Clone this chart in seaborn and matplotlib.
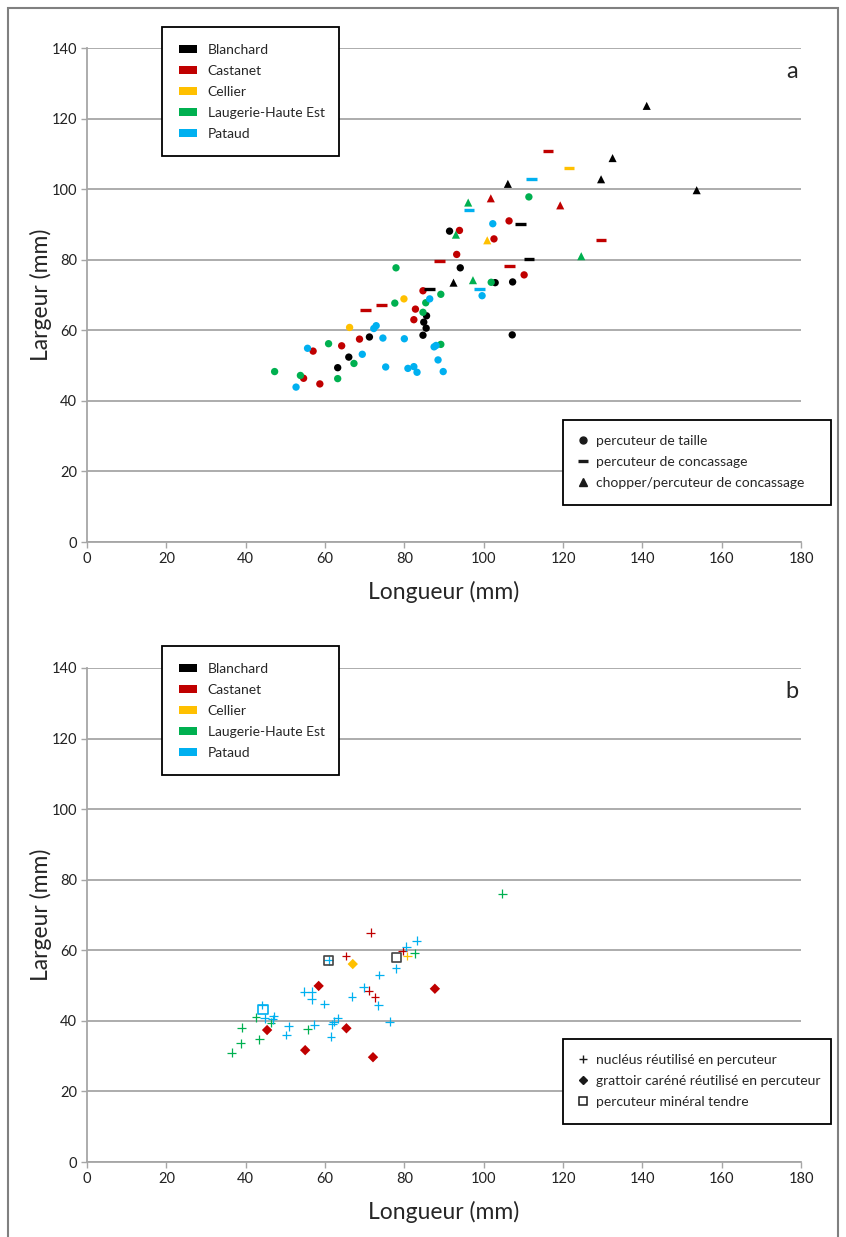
import pandas as pd
import matplotlib.pyplot as plt
import seaborn as sns
from matplotlib.patches import Patch, Rectangle
from matplotlib.lines import Line2D

# sites et couleurs
sites = ["Blanchard", "Castanet", "Cellier", "Laugerie-Haute Est", "Pataud"]
couleurs = ["#000000", "#C00000", "#FFC000", "#00B050", "#00B0F0"]

# (a) percuteur de taille : (longueur, largeur)
blanchard_taille = [(91.4, 88.1), (94.1, 77.7), (102.9, 73.5), (107.3, 73.7), (85.6, 64.1), (84.9, 62.3),
                    (85.5, 60.6), (84.7, 58.6), (107.2, 58.7), (71.2, 58.1), (66.0, 52.4), (63.2, 49.4)]
castanet_taille = [(106.4, 91.0), (93.9, 88.3), (102.6, 85.9), (93.2, 81.5), (110.2, 75.7), (84.7, 71.2),
                   (82.8, 66.0), (82.4, 63.0), (68.7, 57.5), (64.2, 55.6), (57.0, 54.1), (54.6, 46.4), (58.7, 44.8)]
cellier_taille = [(79.9, 68.9), (66.2, 60.8)]
laugerie_taille = [(111.4, 97.8), (101.9, 73.6), (89.2, 70.2), (77.9, 77.7), (77.6, 67.7), (85.4, 67.8),
                   (84.7, 65.1), (89.2, 56.0), (60.9, 56.2), (67.3, 50.6), (47.3, 48.3), (53.8, 47.2), (63.2, 46.3)]
pataud_taille = [(102.3, 90.2), (99.6, 69.8), (86.4, 68.9), (74.6, 57.8), (80.0, 57.6), (87.5, 55.3),
                 (88.0, 55.7), (88.5, 51.6), (75.3, 49.6), (80.9, 49.2), (82.4, 49.7), (83.2, 48.1),
                 (89.8, 48.3), (72.3, 60.5), (72.9, 61.3), (55.6, 54.9), (69.4, 53.2), (52.7, 43.9)]

# (a) percuteur de concassage
blanchard_concassage = [(109.2, 90.1), (111.4, 80.1), (86.4, 71.8)]
castanet_concassage = [(116.2, 110.8), (129.6, 85.7), (88.8, 79.5), (106.6, 78.2), (74.2, 67.1), (70.3, 65.7)]
cellier_concassage = [(121.5, 106.1)]
pataud_concassage = [(112.1, 102.8), (96.3, 94.1), (99.0, 71.7)]

# (a) chopper/percuteur de concassage
blanchard_chopper = [(141.1, 123.6), (132.5, 108.8), (106.1, 101.5), (129.6, 102.8), (153.7, 99.7), (92.4, 73.5)]
castanet_chopper = [(101.8, 97.4), (119.3, 95.4)]
cellier_chopper = [(100.9, 85.5)]
laugerie_chopper = [(96.1, 96.2), (93.0, 87.1), (124.6, 81.0), (97.3, 74.2)]

# (b) nucléus réutilisé en percuteur
castanet_nucleus = [(71.5, 65.0), (79.6, 59.8), (65.3, 58.4), (71.0, 48.5), (72.6, 46.7)]
cellier_nucleus = [(80.7, 58.4)]
laugerie_nucleus = [(82.6, 59.1), (104.7, 76.0), (42.6, 41.0), (46.4, 39.5), (39.0, 38.1), (55.6, 37.6),
                    (43.4, 34.8), (38.7, 33.6), (36.5, 31.0)]
pataud_nucleus = [(83.1, 62.7), (80.5, 61.0), (60.9, 57.2), (77.9, 54.9), (73.7, 53.0), (54.8, 48.3),
                  (56.7, 48.3), (56.6, 46.1), (69.8, 49.5), (66.8, 46.8), (73.4, 44.4), (59.8, 44.8),
                  (44.2, 44.5), (47.1, 41.4), (46.8, 40.4), (44.8, 40.7), (63.2, 40.7), (62.2, 39.8),
                  (61.8, 39.0), (76.3, 39.8), (50.8, 38.5), (57.3, 38.9), (50.2, 36.0), (61.5, 35.5)]

# (b) grattoir caréné réutilisé en percuteur
castanet_grattoir = [(58.4, 49.9), (87.7, 49.1), (45.4, 37.4), (65.4, 37.9), (55.0, 31.7), (72.1, 29.7)]
cellier_grattoir = [(67.0, 56.1)]

# (b) percuteur minéral tendre
blanchard_tendre = [(78.0, 58.0), (60.9, 57.2)]
pataud_tendre = [(44.4, 43.3)]


def to_df(groupes):
    rows = []
    for site, kind, pts in groupes:
        for x, y in pts:
            rows.append((x, y, site, kind))
    return pd.DataFrame(rows, columns=["longueur", "largeur", "site", "type"])


df_a = to_df([
    ("Blanchard", "taille", blanchard_taille), ("Castanet", "taille", castanet_taille),
    ("Cellier", "taille", cellier_taille), ("Laugerie-Haute Est", "taille", laugerie_taille),
    ("Pataud", "taille", pataud_taille),
    ("Blanchard", "concassage", blanchard_concassage), ("Castanet", "concassage", castanet_concassage),
    ("Cellier", "concassage", cellier_concassage), ("Pataud", "concassage", pataud_concassage),
    ("Blanchard", "chopper", blanchard_chopper), ("Castanet", "chopper", castanet_chopper),
    ("Cellier", "chopper", cellier_chopper), ("Laugerie-Haute Est", "chopper", laugerie_chopper),
])
df_b = to_df([
    ("Castanet", "nucleus", castanet_nucleus), ("Cellier", "nucleus", cellier_nucleus),
    ("Laugerie-Haute Est", "nucleus", laugerie_nucleus), ("Pataud", "nucleus", pataud_nucleus),
    ("Castanet", "grattoir", castanet_grattoir), ("Cellier", "grattoir", cellier_grattoir),
    ("Blanchard", "tendre", blanchard_tendre), ("Pataud", "tendre", pataud_tendre),
])

palette = dict(zip(sites, couleurs))

sns.set_theme(style="white")
plt.rcParams["font.family"] = ["Lato", "DejaVu Sans"]

W, H = 846, 1237
fig = plt.figure(figsize=(W / 100, H / 100), dpi=100)
ax_a = fig.add_axes([87 / W, 1 - 542 / H, 714 / W, 494 / H])
ax_b = fig.add_axes([87 / W, 1 - 1162 / H, 714 / W, 494 / H])

gris = "#a6a6a6"


def habiller(ax, lettre):
    ax.set_xlim(0, 180)
    ax.set_ylim(0, 140)
    ax.set_xticks(range(0, 181, 20))
    ax.set_yticks(range(0, 141, 20))
    ax.yaxis.grid(True, color=gris, lw=1.3)
    ax.xaxis.grid(False)
    ax.set_axisbelow(True)
    sns.despine(ax=ax)
    for s in ["left", "bottom"]:
        ax.spines[s].set_color(gris)
        ax.spines[s].set_linewidth(1.3)
    ax.tick_params(bottom=True, left=True, length=4, width=1, color=gris,
                   labelsize=10.5, labelcolor="#222222", pad=3)
    ax.set_xlabel("Longueur (mm)", fontsize=16.5, labelpad=11)
    ax.set_ylabel("Largeur (mm)", fontsize=16.5, labelpad=0)
    ax.text(0.987, 0.953, lettre, transform=ax.transAxes, ha="center", va="center", fontsize=17)


# panneau a
sub = df_a[df_a["type"] == "taille"]
sns.scatterplot(data=sub, x="longueur", y="largeur", hue="site", palette=palette, marker="o",
                s=28, linewidth=0, legend=False, ax=ax_a, zorder=3)
sub = df_a[df_a["type"] == "concassage"]
sns.scatterplot(data=sub, x="longueur", y="largeur", hue="site", palette=palette, marker="_",
                s=60, linewidth=2.4, legend=False, ax=ax_a, zorder=3)
sub = df_a[df_a["type"] == "chopper"]
sns.scatterplot(data=sub, x="longueur", y="largeur", hue="site", palette=palette, marker="^",
                s=34, linewidth=0, legend=False, ax=ax_a, zorder=3)

# panneau b
sub = df_b[df_b["type"] == "nucleus"]
sns.scatterplot(data=sub, x="longueur", y="largeur", hue="site", palette=palette, marker="+",
                s=40, linewidth=0.9, legend=False, ax=ax_b, zorder=3)
sub = df_b[df_b["type"] == "grattoir"]
sns.scatterplot(data=sub, x="longueur", y="largeur", hue="site", palette=palette, marker="D",
                s=28, linewidth=0, legend=False, ax=ax_b, zorder=3)
for site, grp in df_b[df_b["type"] == "tendre"].groupby("site"):
    c = palette[site] if site != "Blanchard" else "#444444"
    sns.scatterplot(data=grp, x="longueur", y="largeur", color=c, facecolor="none", edgecolor=c,
                    marker="s", s=45, linewidth=1.2, legend=False, ax=ax_b, zorder=4)

habiller(ax_a, "a")
habiller(ax_b, "b")

# légendes des sites
site_handles = [Patch(facecolor=c, edgecolor="none", label=s) for s, c in zip(sites, couleurs)]
leg_kw = dict(loc="upper left", mode="expand", fontsize=10, frameon=True, fancybox=False,
              framealpha=1, edgecolor="black", borderaxespad=0)
for top in [27, 646]:
    leg = fig.legend(handles=site_handles, bbox_to_anchor=(162 / W, 1 - top / H - 0.2, 177 / W, 0.2),
                     handlelength=1.35, handleheight=0.5, handletextpad=0.75, labelspacing=0.65,
                     borderpad=1.2, **leg_kw)
    leg.get_frame().set_linewidth(1.3)

# légende des types (a)
type_a = [
    Line2D([], [], ls="none", marker="o", color="k", markersize=5, label="percuteur de taille"),
    Line2D([], [], ls="none", marker="_", color="k", markersize=7, mew=2.4, label="percuteur de concassage"),
    Line2D([], [], ls="none", marker="^", color="k", markersize=5.5, label="chopper/percuteur de concassage"),
]
leg = fig.legend(handles=type_a, bbox_to_anchor=(563 / W, 1 - 420 / H - 0.2, 268 / W, 0.2),
                 handlelength=0.7, handletextpad=0.6, labelspacing=0.65, borderpad=1.1, **leg_kw)
leg.get_frame().set_linewidth(1.3)

# légende des types (b)
type_b = [
    Line2D([], [], ls="none", marker="+", color="k", markersize=6, mew=1, label="nucléus réutilisé en percuteur"),
    Line2D([], [], ls="none", marker="D", color="k", markersize=4.5, label="grattoir caréné réutilisé en percuteur"),
    Line2D([], [], ls="none", marker="s", color="k", markerfacecolor="none", markersize=6, mew=1.1,
           label="percuteur minéral tendre"),
]
leg = fig.legend(handles=type_b, bbox_to_anchor=(563 / W, 1 - 1039 / H - 0.2, 268 / W, 0.2),
                 handlelength=0.7, handletextpad=0.6, labelspacing=0.65, borderpad=1.1, **leg_kw)
leg.get_frame().set_linewidth(1.3)

# cadre extérieur
fig.add_artist(Rectangle((8 / W, -0.01), 830 / W, 1 - 8 / H + 0.01, transform=fig.transFigure,
                         fill=False, edgecolor="#808080", lw=1.5))

fig.savefig("out.png", dpi=100)
plt.close()
